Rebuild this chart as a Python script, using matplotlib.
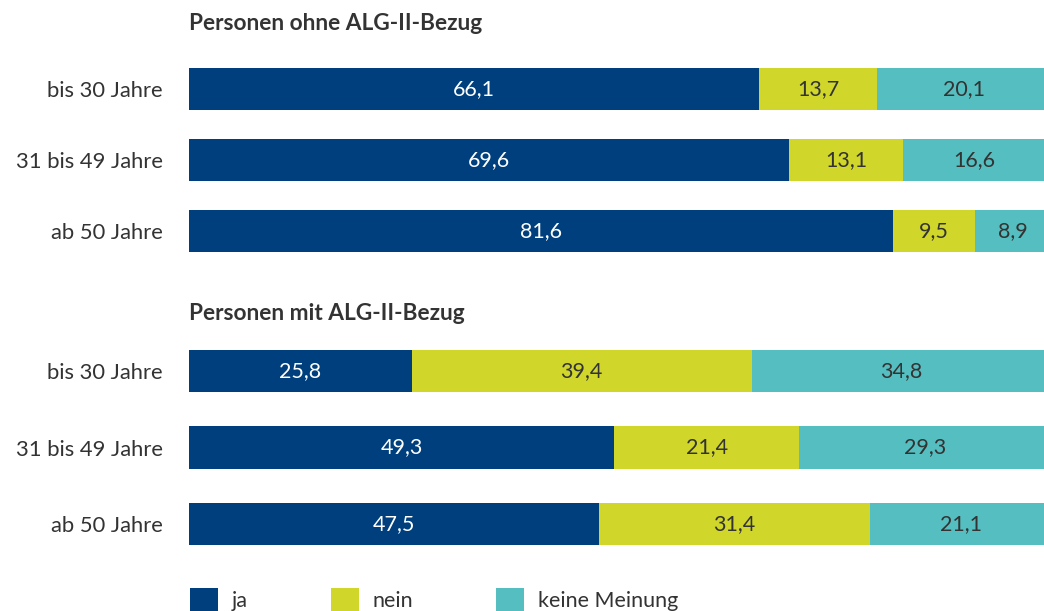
import matplotlib
matplotlib.use("Agg")
import matplotlib.pyplot as plt
from matplotlib.patches import Patch

plt.rcParams['font.family'] = ['Lato', 'DejaVu Sans']

## data
age_groups = ["bis 30 Jahre", "31 bis 49 Jahre", "ab 50 Jahre"]
answers = ["ja", "nein", "keine Meinung"]

ohne_ja = [66.1, 69.6, 81.6]
ohne_nein = [13.7, 13.1, 9.5]
ohne_keine = [20.1, 16.6, 8.9]

mit_ja = [25.8, 49.3, 47.5]
mit_nein = [39.4, 21.4, 31.4]
mit_keine = [34.8, 29.3, 21.1]

colors = ["#003f7d", "#d0d62a", "#55bec0"]
text_colors = ["white", "#333333", "#333333"]

W, H = 1044, 611
fig = plt.figure(figsize=(W / 100, H / 100), dpi=100)


def px_axes(left, top, right, bottom):
    return fig.add_axes([left / W, 1 - bottom / H, (right - left) / W, (bottom - top) / H])


def draw_group(ax, series, bar_h):
    y = list(range(len(age_groups)))
    left = [0] * len(age_groups)
    for vals, col, tcol in zip(series, colors, text_colors):
        ax.barh(y, vals, left=left, height=bar_h, color=col, edgecolor="none")
        for yi, l, v in zip(y, left, vals):
            ax.text(l + v / 2, yi, f"{v:.1f}".replace(".", ","), ha="center", va="center",
                    color=tcol, fontsize=15.5)
        left = [a + b for a, b in zip(left, vals)]
    ax.set_xlim(0, 99.1)
    ax.set_ylim(len(age_groups) - 0.5, -0.5)
    ax.set_yticks(y)
    ax.set_yticklabels(age_groups, fontsize=15.8, color="#333333")
    ax.tick_params(axis="y", length=0, pad=19)
    ax.set_xticks([])
    for s in ax.spines.values():
        s.set_visible(False)


ax1 = px_axes(189, 53.5, 1044, 266.5)
draw_group(ax1, [ohne_ja, ohne_nein, ohne_keine], 0.59)

ax2 = px_axes(189, 332.75, 1044, 562.25)
draw_group(ax2, [mit_ja, mit_nein, mit_keine], 0.55)

fig.text(189 / W, 1 - 23 / H, "Personen ohne ALG-II-Bezug", fontsize=16.3, fontweight="bold",
         color="#333333", va="center", ha="left")
fig.text(189 / W, 1 - 314 / H, "Personen mit ALG-II-Bezug", fontsize=16.3, fontweight="bold",
         color="#333333", va="center", ha="left")

handles = [Patch(facecolor=c, edgecolor="none") for c in colors]
fig.legend(handles, answers, loc="center left", bbox_to_anchor=(190 / W, 1 - 600 / H),
           ncol=3, frameon=False, fontsize=15.5, handlelength=1.3, handleheight=1.3,
           columnspacing=3.85, handletextpad=0.65, labelcolor="#333333",
           borderaxespad=0, borderpad=0)

fig.savefig("out.png", dpi=100)
